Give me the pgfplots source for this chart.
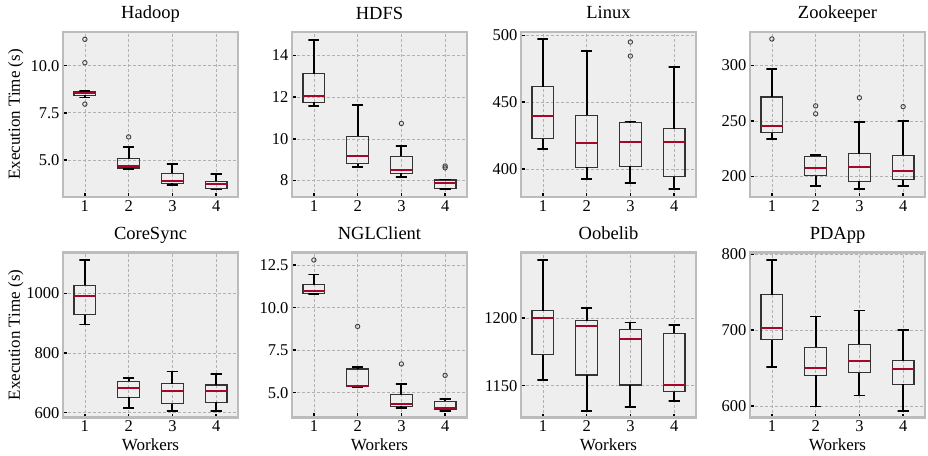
\documentclass[border=0pt]{standalone}
\usepackage{fontspec}
\setmainfont{Liberation Serif}
\usepackage{pgfplots}
\pgfplotsset{compat=1.18}
\usepgfplotslibrary{groupplots}

\definecolor{bggray}{HTML}{EEEEEE}
\definecolor{framegray}{HTML}{BCBCBC}
\definecolor{gridgray}{HTML}{B2B2B2}
\definecolor{boxgray}{HTML}{333333}
\definecolor{medred}{HTML}{A60628}

\pgfplotsset{
  boxst/.style={draw=boxgray, line width=1.2pt, line cap=rect, no marks, solid},
  whst/.style={black, line width=1.8pt, no marks, solid},
  medst/.style={medred, line width=2pt, no marks, solid},
  outst/.style={only marks, mark=o, mark size=2.2pt, mark options={draw=black!75, line width=0.9pt, fill=none}},
  onedec/.style={yticklabel style={/pgf/number format/.cd, fixed, fixed zerofill, precision=1}},
}

% one box: position, lower whisker, lower quartile, median, upper quartile, upper whisker
\newcommand{\bxp}[6]{%
  \pgfmathsetmacro{\xl}{#1-0.25}\pgfmathsetmacro{\xr}{#1+0.25}%
  \pgfmathsetmacro{\cl}{#1-0.125}\pgfmathsetmacro{\cr}{#1+0.125}%
  \addplot[boxst] coordinates {(\xl,#3) (\xr,#3) (\xr,#5) (\xl,#5) (\xl,#3)};
  \addplot[whst] coordinates {(#1,#5) (#1,#6) (\cl,#6) (\cr,#6)};
  \addplot[whst] coordinates {(#1,#3) (#1,#2) (\cl,#2) (\cr,#2)};
  \addplot[medst] coordinates {(\xl,#4) (\xr,#4)};
}

\begin{document}
\begin{tikzpicture}
\begin{groupplot}[
    group style={group name=g, group size=4 by 2, horizontal sep=54pt, vertical sep=55.5pt},
    width=175pt, height=165pt, scale only axis,
    xmin=0.5, xmax=4.5, xtick={1,2,3,4},
    axis background/.style={fill=bggray},
    axis line style={draw=framegray, line width=2.2pt},
    tick align=inside, tick pos=left,
    major tick length=4pt,
    tick style={black, line width=1.5pt},
    grid=major,
    major grid style={gridgray, line width=0.7pt, dash pattern=on 3pt off 2pt},
    tick label style={font=\fontsize{16.5}{19}\selectfont, black},
    label style={font=\fontsize{17}{20}\selectfont},
    title style={font=\fontsize{18.5}{22}\selectfont, at={(axis description cs:0.5,1)}, anchor=base, yshift=7pt},
    ylabel style={at={(axis description cs:-0.246,0.5)}, anchor=base},
    xlabel style={at={(axis description cs:0.5,-0.2)}, anchor=base},
    /pgf/number format/assume math mode=true,
    /pgf/number format/1000 sep={},
]

% Hadoop
\nextgroupplot[title=Hadoop, ylabel={Execution Time (s)}, ymin=3.03, ymax=11.79, ytick={5,7.5,10}, onedec]
\bxp{1}{8.31}{8.43}{8.53}{8.64}{8.66}
\bxp{2}{4.52}{4.57}{4.68}{5.07}{5.69}
\bxp{3}{3.66}{3.76}{3.87}{4.28}{4.77}
\bxp{4}{3.43}{3.48}{3.74}{3.87}{4.26}
\addplot[outst] coordinates {(1,11.4) (1,10.16) (1,7.96) (2,6.22)};

% HDFS
\nextgroupplot[title=HDFS, ymin=7.21, ymax=15.13, ytick={8,10,12,14}]
\bxp{1}{11.56}{11.75}{12.07}{13.13}{14.76}
\bxp{2}{8.66}{8.80}{9.19}{10.13}{11.63}
\bxp{3}{8.18}{8.34}{8.50}{9.16}{9.67}
\bxp{4}{7.58}{7.61}{7.88}{8.03}{8.05}
\addplot[outst] coordinates {(3,10.74) (4,8.70) (4,8.61)};

% Linux
\nextgroupplot[title=Linux, ymin=379, ymax=502.5, ytick={400,450,500}]
\bxp{1}{414.8}{422.6}{440}{461.6}{497}
\bxp{2}{392.3}{401.3}{419.5}{440.1}{488}
\bxp{3}{389.2}{402}{420}{434.8}{435.5}
\bxp{4}{384.8}{394.3}{420}{430}{476.5}
\addplot[outst] coordinates {(3,495) (3,484.5)};

% Zookeeper
\nextgroupplot[title=Zookeeper, ymin=181.6, ymax=330.2, ytick={200,250,300}]
\bxp{1}{234}{239.5}{245.5}{271.7}{297}
\bxp{2}{191.5}{200.9}{207.5}{218.4}{219.2}
\bxp{3}{188.5}{195.7}{208.9}{220.7}{249}
\bxp{4}{191.5}{197.3}{205}{219}{250}
\addplot[outst] coordinates {(1,323.9) (2,263.7) (2,256.5) (3,271) (4,263)};

% CoreSync
\nextgroupplot[title=CoreSync, ylabel={Execution Time (s)}, xlabel=Workers, ymin=584, ymax=1136.8, ytick={600,800,1000}]
\bxp{1}{895.8}{928.4}{989.9}{1026.9}{1112}
\bxp{2}{616.8}{651.4}{681.7}{705}{716}
\bxp{3}{606.7}{630.3}{671.6}{697.5}{737.8}
\bxp{4}{606.7}{634.6}{673.9}{693}{729.9}

% NGLClient
\nextgroupplot[title=NGLClient, xlabel=Workers, ymin=3.54, ymax=13.25, ytick={5,7.5,10,12.5}, onedec]
\bxp{1}{10.80}{10.86}{10.96}{11.36}{11.95}
\bxp{2}{5.31}{5.35}{5.41}{6.39}{6.51}
\bxp{3}{4.11}{4.21}{4.33}{4.88}{5.53}
\bxp{4}{3.94}{3.99}{4.11}{4.49}{4.63}
\addplot[outst] coordinates {(1,12.81) (2,8.90) (3,6.69) (4,6.02)};

% Oobelib
\nextgroupplot[title=Oobelib, xlabel=Workers, ymin=1126.5, ymax=1248.5, ytick={1150,1200}]
\bxp{1}{1154.5}{1172.8}{1199.8}{1205.5}{1242.8}
\bxp{2}{1131.5}{1158}{1193.8}{1198}{1207.2}
\bxp{3}{1134}{1150.5}{1184.4}{1191.8}{1196.8}
\bxp{4}{1138.8}{1145.5}{1150.7}{1188.9}{1194.6}

% PDApp
\nextgroupplot[title=PDApp, xlabel=Workers, ymin=585, ymax=802.2, ytick={600,700,800}]
\bxp{1}{651}{687.3}{702.2}{746.6}{792}
\bxp{2}{599.5}{640.5}{649.7}{677.5}{718}
\bxp{3}{614}{644}{659}{681.4}{725.8}
\bxp{4}{593.8}{628.6}{648.4}{659.8}{700}
\end{groupplot}
\pgfresetboundingbox
\path[use as bounding box] (g c1r1.north west) ++(-63pt,32pt) rectangle ++(928pt,-455pt);
\end{tikzpicture}
\end{document}
